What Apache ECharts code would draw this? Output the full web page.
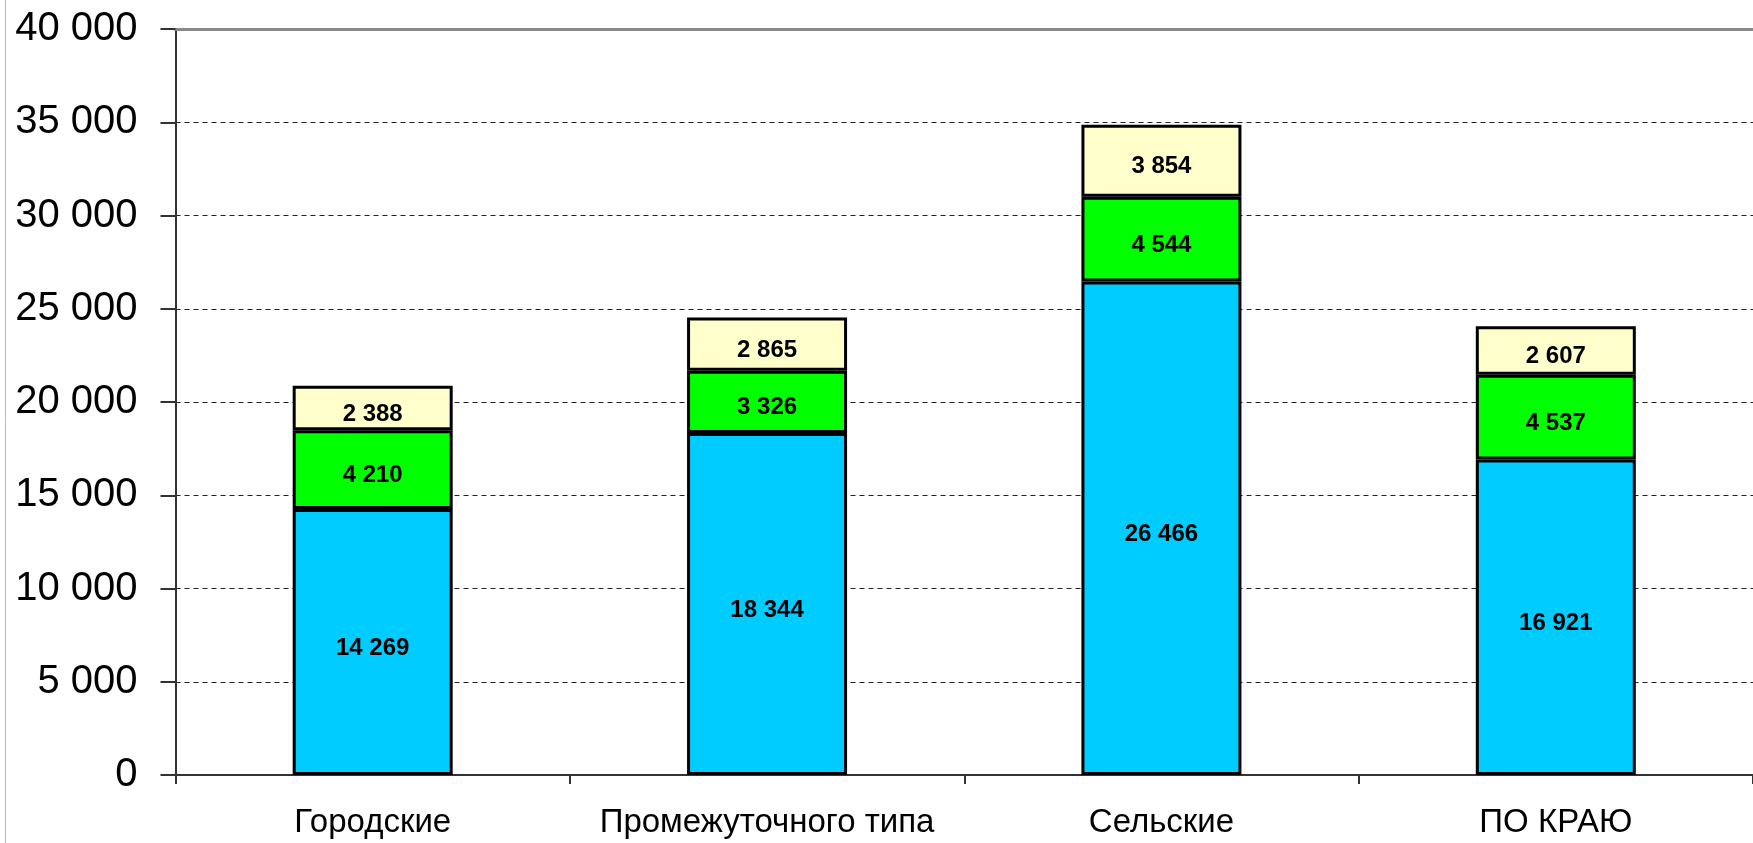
<!DOCTYPE html>
<html>
<head>
<meta charset="utf-8">
<script src="https://cdn.jsdelivr.net/npm/echarts@6/dist/echarts.min.js"></script>
<style>
html,body{margin:0;padding:0;background:#fff;}
#chart{width:1753px;height:843px;}
</style>
</head>
<body>
<div id="chart"></div>
<script>
var categories = ['Городские', 'Промежуточного типа', 'Сельские', 'ПО КРАЮ'];
var seriesBlue = [14269, 18344, 26466, 16921];
var seriesGreen = [4210, 3326, 4544, 4537];
var seriesCream = [2388, 2865, 3854, 2607];
var yTicks = [0, 5000, 10000, 15000, 20000, 25000, 30000, 35000, 40000];

function fmt(v) {
  return String(v).replace(/\B(?=(\d{3})+(?!\d))/g, ' ');
}

var chart = echarts.init(document.getElementById('chart'));

function barSeries(name, data, color) {
  return {
    name: name,
    type: 'bar',
    stack: 'total',
    data: data,
    barWidth: 160,
    itemStyle: { color: color, borderColor: '#000', borderWidth: 3 },
    label: {
      show: true,
      position: 'inside',
      offset: [0, 6],
      color: '#000',
      fontFamily: 'Liberation Sans, Arial, sans-serif',
      fontWeight: 'bold',
      fontSize: 24,
      formatter: function (p) { return fmt(p.value); }
    },
    emphasis: { disabled: true },
    animation: false
  };
}

chart.setOption({
  animation: false,
  backgroundColor: '#fff',
  grid: { left: 175.5, top: 29, width: 1586, bottom: 68, containLabel: false },
  xAxis: [{
    type: 'category',
    data: categories,
    position: 'bottom',
    axisLine: { lineStyle: { color: '#333', width: 2 } },
    axisTick: { show: true, length: 9, alignWithLabel: false, lineStyle: { color: '#333', width: 2 } },
    axisLabel: {
      color: '#000',
      fontFamily: 'Liberation Sans, Arial, sans-serif',
      fontSize: 33,
      margin: 31,
      interval: 0
    }
  }, {
    type: 'category',
    data: categories,
    position: 'top',
    axisLine: { lineStyle: { color: '#888', width: 3 } },
    axisTick: { show: false },
    axisLabel: { show: false }
  }],
  yAxis: {
    type: 'value',
    min: yTicks[0],
    max: yTicks[yTicks.length - 1],
    interval: 5000,
    axisLine: { show: true, lineStyle: { color: '#333', width: 2 } },
    axisTick: { show: true, length: 15, lineStyle: { color: '#333', width: 2 } },
    axisLabel: {
      color: '#000',
      fontFamily: 'Liberation Sans, Arial, sans-serif',
      fontSize: 40,
      margin: 38,
      formatter: function (v) { return fmt(v); }
    },
    splitLine: {
      show: true,
      lineStyle: { color: '#222', width: 1, type: [5, 4] }
    }
  },
  graphic: [{
    type: 'line',
    shape: { x1: 5.5, y1: 0, x2: 5.5, y2: 843 },
    style: { stroke: '#bbb', lineWidth: 1 }
  }],
  series: [
    barSeries('blue', seriesBlue, '#00CCFF'),
    barSeries('green', seriesGreen, '#00FF00'),
    barSeries('cream', seriesCream, '#FFFFCC')
  ]
});
</script>
</body>
</html>
